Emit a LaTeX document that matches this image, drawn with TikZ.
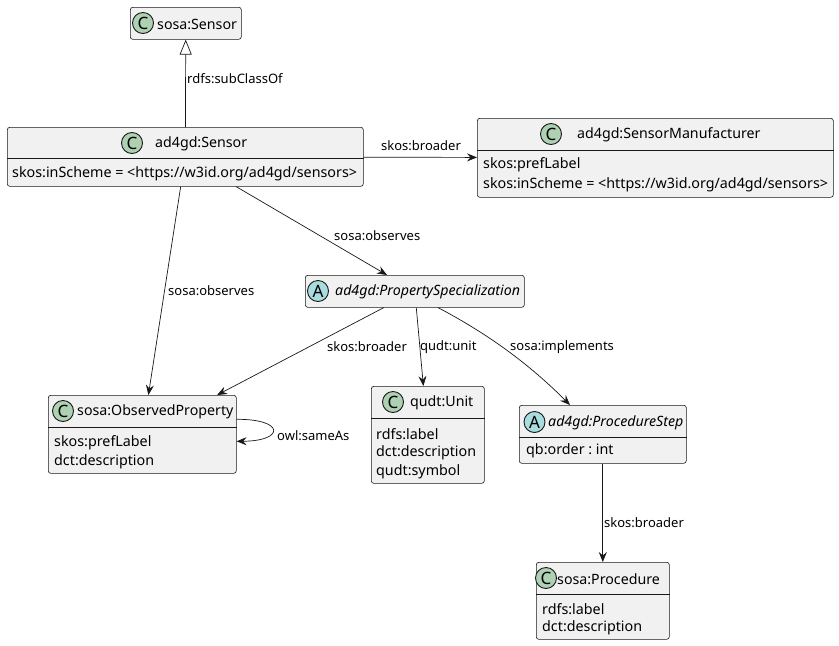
\documentclass[tikz,border=0pt]{standalone}
\usepackage{fontspec}
\setmainfont{Noto Sans}
\usetikzlibrary{arrows.meta}
\definecolor{boxfill}{HTML}{F1F1F1}
\definecolor{linec}{HTML}{181818}
\definecolor{cgreen}{HTML}{ADD1B2}
\definecolor{ablue}{HTML}{A9DCDF}
\frenchspacing
\tikzset{
  cls/.style={draw=linec, fill=boxfill, rounded corners=2.5pt, line width=0.6pt, inner sep=0pt, anchor=north west},
  cicon/.style={circle, draw=linec, fill=cgreen, line width=0.9pt, minimum size=21pt, inner sep=0pt, font=\bfseries\fontsize{17}{17}\selectfont},
  aicon/.style={cicon, fill=ablue},
  cname/.style={anchor=west, inner sep=0pt, font=\fontsize{14.2}{16}\selectfont},
  attr/.style={anchor=west, inner sep=0pt, font=\fontsize{14.3}{16}\selectfont},
  lbl/.style={anchor=west, inner sep=0pt, font=\fontsize{13}{15}\selectfont},
  sep/.style={draw=linec, line width=0.6pt},
  arr/.style={draw=linec, line width=0.7pt, -{Stealth[length=10pt, width=8pt, inset=3.5pt]}},
  inh/.style={draw=linec, line width=0.7pt, -{Triangle[open, length=15pt, width=12pt, fill=white]}}
}
\begin{document}
\begin{tikzpicture}[x=1pt, y=-1pt]
  \useasboundingbox (0,0) rectangle (839,646);

  % sosa:Sensor
  \node[cls, minimum width=111pt, minimum height=32pt] (sosasensor) at (130,7) {};
  \node[cicon] (sosasensor-c) at (143,23) {C};
  \node[cname] (sosasensor-n) at (157,24) {sosa:Sensor};

  % ad4gd:Sensor
  \node[cls, minimum width=356pt, minimum height=59pt] (sensor) at (7,127) {};
  \node[cicon] (sensor-c) at (132,143) {C};
  \node[cname] (sensor-n) at (155,144) {ad4gd:Sensor};
  \draw[sep] (sensor.west |- 0,158) -- (sensor.east |- 0,158);
  \node[attr] (sensor-a1) at (12,174) {skos:inScheme = <https://w3id.org/ad4gd/sensors>};

  % ad4gd:SensorManufacturer
  \node[cls, minimum width=356pt, minimum height=79pt] (manuf) at (477,118) {};
  \node[cicon] (manuf-c) at (551,134) {C};
  \node[cname] (manuf-n) at (577,135) {ad4gd:SensorManufacturer};
  \draw[sep] (manuf.west |- 0,150) -- (manuf.east |- 0,150);
  \node[attr] (manuf-a1) at (483,165) {skos:prefLabel};
  \node[attr] (manuf-a2) at (483,185) {skos:inScheme = <https://w3id.org/ad4gd/sensors>};

  % ad4gd:PropertySpecialization
  \node[cls, minimum width=219pt, minimum height=32pt] (propspec) at (305,275) {};
  \node[aicon] (propspec-c) at (318,291) {A};
  \node[cname, font=\itshape\fontsize{14.2}{16}\selectfont] (propspec-n) at (335,292) {ad4gd:PropertySpecialization};

  % sosa:ObservedProperty
  \node[cls, minimum width=188pt, minimum height=78pt] (obsprop) at (48,395) {};
  \node[cicon] (obsprop-c) at (63,411) {C};
  \node[cname] (obsprop-n) at (77,412) {sosa:ObservedProperty};
  \draw[sep] (obsprop.west |- 0,427) -- (obsprop.east |- 0,427);
  \node[attr] (obsprop-a1) at (54,443) {skos:prefLabel};
  \node[attr] (obsprop-a2) at (54,462) {dct:description};

  % qudt:Unit
  \node[cls, minimum width=113pt, minimum height=97pt] (unit) at (371,386) {};
  \node[cicon] (unit-c) at (393,402) {C};
  \node[cname] (unit-n) at (410,403) {qudt:Unit};
  \draw[sep] (unit.west |- 0,418) -- (unit.east |- 0,418);
  \node[attr] (unit-a1) at (376,434) {rdfs:label};
  \node[attr] (unit-a2) at (376,453) {dct:description};
  \node[attr] (unit-a3) at (376,472) {qudt:symbol};

  % ad4gd:ProcedureStep
  \node[cls, minimum width=167pt, minimum height=58pt] (procstep) at (519,405) {};
  \node[aicon] (procstep-c) at (534.5,422) {A};
  \node[cname, font=\itshape\fontsize{14.2}{16}\selectfont] (procstep-n) at (548,423) {ad4gd:ProcedureStep};
  \draw[sep] (procstep.west |- 0,437) -- (procstep.east |- 0,437);
  \node[attr] (procstep-a1) at (526,451) {qb:order : int};

  % sosa:Procedure
  \node[cls, minimum width=133pt, minimum height=77pt] (proc) at (536,562) {};
  \node[cicon] (proc-c) at (546,578) {C};
  \node[cname] (proc-n) at (557,579) {sosa:Procedure};
  \draw[sep] (proc.west |- 0,594) -- (proc.east |- 0,594);
  \node[attr] (proc-a1) at (542,609) {rdfs:label};
  \node[attr] (proc-a2) at (542,628) {dct:description};

  % connectors
  \draw[inh] (sensor) -- (sosasensor);
  \node[lbl] (l-subclass) at (187,79) {rdfs:subClassOf};

  \draw[arr] (sensor) -- (manuf);
  \node[lbl] (l-broader1) at (381,146) {skos:broader};

  \draw[arr] (sensor) -- (propspec);
  \node[lbl] (l-observes1) at (334,236) {sosa:observes};

  \draw[arr] (sensor) -- (obsprop);
  \node[lbl] (l-observes2) at (168,291) {sosa:observes};

  \draw[arr] (propspec) -- (obsprop);
  \node[lbl] (l-broader2) at (327,347) {skos:broader};

  \draw[arr] (propspec) -- (unit);
  \node[lbl] (l-unit) at (420,347) {qudt:unit};

  \draw[arr] (propspec.south -| 438,0) .. controls (490,335) and (530,365) .. (procstep.north -| 570,0);
  \node[lbl] (l-implements) at (510,347) {sosa:implements};

  \draw[arr] (procstep) -- (proc);
  \node[lbl] (l-broader3) at (604,523) {skos:broader};

  \draw[arr] ([yshift=15pt]obsprop.east) .. controls (285,419) and (285,441) .. ([yshift=-7pt]obsprop.east);
  \node[lbl] (l-sameas) at (277,436) {owl:sameAs};
\end{tikzpicture}
\end{document}
